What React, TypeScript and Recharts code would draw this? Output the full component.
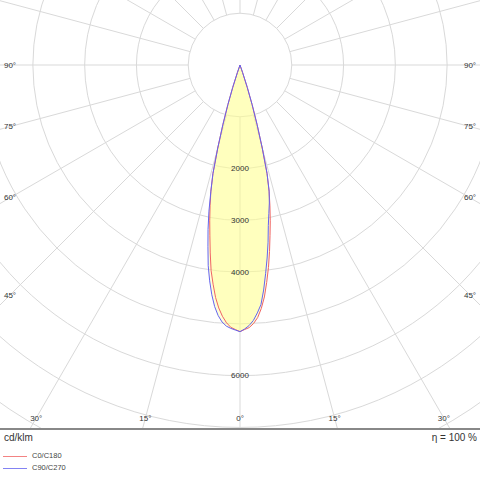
import React from 'react';
import { RadarChart, Radar, PolarGrid, PolarAngleAxis, PolarRadiusAxis, Legend } from 'recharts';

// gamma angles (degrees from nadir) at which intensities were read
const gammaSteps = [0, 1, 2, 3, 4, 5, 6, 7, 8, 9, 10, 11, 12, 13, 14, 15, 16, 17, 18, 19, 20];
// cd/klm per half-plane
const c0Values = [5150, 5110, 5075, 5000, 4890, 4720, 4505, 4230, 3950, 3645, 3340, 3065, 2780, 2500, 2160, 1660, 1200, 800, 455, 150, 0];
const c180Values = [5150, 5110, 5070, 4985, 4865, 4710, 4515, 4265, 4010, 3675, 3350, 3065, 2780, 2500, 2160, 1660, 1200, 800, 455, 150, 0];
const c90Values = [5150, 5100, 5035, 4940, 4800, 4645, 4370, 4060, 3765, 3465, 3150, 2920, 2725, 2500, 2160, 1660, 1200, 800, 455, 150, 0];
const c270Values = [5150, 5120, 5090, 5050, 4975, 4855, 4690, 4470, 4210, 3925, 3565, 3235, 2885, 2500, 2160, 1660, 1200, 800, 455, 150, 0];

const ringValues = [1000, 2000, 3000, 4000, 5000, 6000, 7000, 8000, 9000];
const ringLabels = [2000, 3000, 4000, 6000];
const angleLabelTicks = [-90, -75, -60, -45, -30, -15, 0, 15, 30, 45, 60, 75, 90];
const spokeAngles = [-180, -165, -150, -135, -120, -105, -90, -75, -60, -45, -30, -15, 0, 15, 30, 45, 60, 75, 90, 105, 120, 135, 150, 165];
const seriesNames = ['C0/C180', 'C90/C270'];
const unitLabel = 'cd/klm';
const efficiencyLabel = 'η = 100 %';

// layout
const W = 480;
const H = 481;
const PLOT_H = 429;
const CX = 240;
const CY = 65;
const R_MAX = 9000;
const OUTER = 466;
const LABEL_LEFT = 10;
const LABEL_RIGHT = 470;
const LABEL_BOTTOM = 418;
const FONT = '"Liberation Sans", Arial, sans-serif';
const GRID = '#d9d9d9';
const RED = '#f06464';
const BLUE = '#6464f0';

const data: { gamma: number; red: number; blue: number }[] = [];
for (let i = gammaSteps.length - 1; i >= 1; i--) {
  data.push({ gamma: -gammaSteps[i], red: c180Values[i], blue: c270Values[i] });
}
for (let i = 0; i < gammaSteps.length - 1; i++) {
  data.push({ gamma: gammaSteps[i], red: c0Values[i], blue: c90Values[i] });
}

const AngleTick = (props: any) => {
  const g = props.payload.value as number;
  const rad = (g * Math.PI) / 180;
  const dx = Math.sin(rad);
  const dy = Math.cos(rad);
  let t = Infinity;
  if (dx < -1e-6) t = Math.min(t, (LABEL_LEFT - CX) / dx);
  if (dx > 1e-6) t = Math.min(t, (LABEL_RIGHT - CX) / dx);
  if (dy > 1e-6) t = Math.min(t, (LABEL_BOTTOM - CY) / dy);
  return (
    <text
      x={CX + t * dx}
      y={CY + t * dy}
      textAnchor="middle"
      dominantBaseline="central"
      fontFamily={FONT}
      fontSize={8}
      fill="#333"
    >
      {Math.abs(g)}°
    </text>
  );
};

const RingTick = (props: any) => {
  const v = props.payload.value as number;
  if (!ringLabels.includes(v)) return <g />;
  return (
    <text
      x={props.x}
      y={props.y}
      textAnchor="middle"
      dominantBaseline="central"
      fontFamily={FONT}
      fontSize={8}
      fill="#333"
    >
      {v}
    </text>
  );
};

const LegendContent = (props: any) => {
  const payload = ((props.payload || []) as any[]).filter((p) => seriesNames.includes(p.value));
  return (
    <div style={{ fontFamily: FONT, fontSize: 7.5, color: '#444' }}>
      {payload.map((p) => (
        <div key={p.value} style={{ display: 'flex', alignItems: 'center', height: 12 }}>
          <div style={{ width: 24, height: 1, background: p.color, marginLeft: 3, marginRight: 5, opacity: 0.8 }} />
          <span style={{ lineHeight: '12px' }}>{p.value}</span>
        </div>
      ))}
    </div>
  );
};

const zeroMargin = { top: 0, right: 0, bottom: 0, left: 0 };

export default function App() {
  return (
    <div style={{ position: 'absolute', left: 0, top: 0, width: W, height: H, background: '#fff', overflow: 'hidden' }}>
      <div style={{ position: 'absolute', left: 0, top: 0 }}>
        <RadarChart
          width={W}
          height={PLOT_H}
          cx={CX}
          cy={CY}
          innerRadius={(OUTER * ringValues[0]) / R_MAX}
          outerRadius={OUTER}
          startAngle={-270}
          endAngle={90}
          data={data}
          margin={zeroMargin}
        >
          <PolarGrid gridType="circle" polarRadius={[]} stroke={GRID} />
          <PolarAngleAxis
            dataKey="gamma"
            type="number"
            domain={[-180, 180]}
            ticks={spokeAngles}
            tick={false}
            axisLine={false}
            tickLine={false}
          />
          <PolarRadiusAxis domain={[0, R_MAX]} tick={false} axisLine={false} tickLine={false} />
        </RadarChart>
      </div>
      <div style={{ position: 'absolute', left: 0, top: 0 }}>
        <RadarChart
          width={W}
          height={PLOT_H}
          cx={CX}
          cy={CY}
          innerRadius={0}
          outerRadius={OUTER}
          startAngle={-270}
          endAngle={90}
          data={data}
          margin={zeroMargin}
        >
          <PolarGrid gridType="circle" radialLines={false} stroke={GRID} />
          <PolarAngleAxis
            dataKey="gamma"
            type="number"
            domain={[-180, 180]}
            ticks={angleLabelTicks}
            tick={AngleTick}
            axisLine={false}
            tickLine={false}
          />
          <PolarRadiusAxis
            angle={-90}
            domain={[0, R_MAX]}
            ticks={ringValues}
            tick={RingTick}
            axisLine={false}
            tickLine={false}
          />
          <Radar dataKey="red" fill="#ffff90" fillOpacity={0.35} stroke="none" legendType="none" dot={false} activeDot={false} isAnimationActive={false} />
          <Radar dataKey="blue" fill="#ffff90" fillOpacity={0.35} stroke="none" legendType="none" dot={false} activeDot={false} isAnimationActive={false} />
          <Radar name={seriesNames[0]} dataKey="red" stroke={RED} strokeWidth={1} strokeLinejoin="round" fill="none" dot={false} activeDot={false} isAnimationActive={false} />
          <Radar name={seriesNames[1]} dataKey="blue" stroke={BLUE} strokeWidth={1} strokeLinejoin="round" fill="none" dot={false} activeDot={false} isAnimationActive={false} />
          <Legend
            content={LegendContent}
            wrapperStyle={{ position: 'absolute', left: 0, top: 450, width: 200, height: 26 }}
          />
        </RadarChart>
      </div>
      <div style={{ position: 'absolute', left: 0, top: 428, width: W, height: 2, background: '#888' }} />
      <div style={{ position: 'absolute', left: 4, top: 431, fontFamily: FONT, fontSize: 10, lineHeight: '13px', color: '#333' }}>
        {unitLabel}
      </div>
      <div style={{ position: 'absolute', right: 3, top: 431, fontFamily: FONT, fontSize: 10, lineHeight: '13px', color: '#333' }}>
        {efficiencyLabel}
      </div>
    </div>
  );
}
